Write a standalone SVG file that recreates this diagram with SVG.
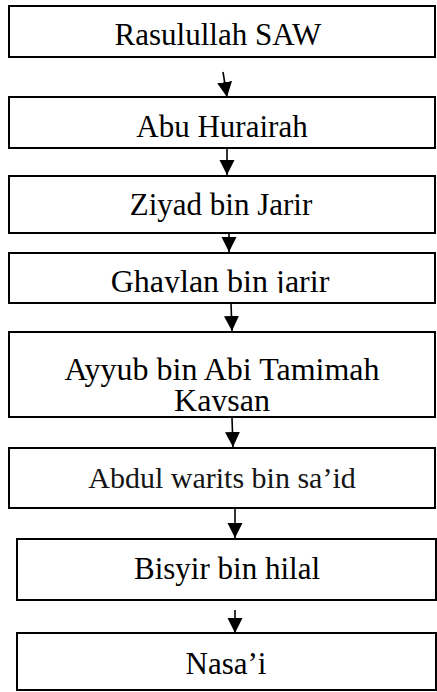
<svg xmlns="http://www.w3.org/2000/svg" width="437" height="692" viewBox="0 0 437 692">
  <style>
    .box { fill: #ffffff; stroke: #000000; stroke-width: 2; }
    .label { font-family: "Liberation Serif", "Times New Roman", serif; font-size: 31px; fill: #000000; text-anchor: middle; }
    .big { font-size: 32px; }
    .garamond { font-size: 30px; fill: #151515; }
    .link { stroke: #000000; stroke-width: 1.6; fill: none; marker-end: url(#head); }
  </style>
  <defs>
    <marker id="head" markerUnits="userSpaceOnUse" markerWidth="16" markerHeight="16" refX="15" refY="7.5" orient="auto">
      <path d="M0,0 L15,7.5 L0,15 Z" fill="#000000"/>
    </marker>
    <!-- the two tall labels are cut off by their boxes -->
    <clipPath id="clipGhaylan"><rect x="10" y="254" width="424" height="39"/></clipPath>
    <clipPath id="clipAyyub"><rect x="10" y="333" width="424" height="78"/></clipPath>
  </defs>

  <rect width="437" height="692" fill="#ffffff"/>

  <g id="connectors">
    <line class="link" x1="223" y1="72" x2="227" y2="97"/>
    <line class="link" x1="227" y1="148" x2="227" y2="175"/>
    <line class="link" x1="229" y1="233" x2="229" y2="252"/>
    <line class="link" x1="231" y1="303" x2="232" y2="331"/>
    <line class="link" x1="232" y1="418" x2="233" y2="447"/>
    <line class="link" x1="235" y1="508" x2="235" y2="538"/>
    <line class="link" x1="235" y1="610" x2="235" y2="633"/>
  </g>

  <g id="rasulullah">
    <rect class="box" x="9" y="6" width="426" height="51"/>
    <text class="label" x="218" y="45">Rasulullah SAW</text>
  </g>

  <g id="abu-hurairah">
    <rect class="box" x="9" y="97" width="426" height="51"/>
    <text class="label" x="222" y="137">Abu Hurairah</text>
  </g>

  <g id="ziyad">
    <rect class="box" x="9" y="176" width="426" height="57"/>
    <text class="label" x="221" y="215">Ziyad bin Jarir</text>
  </g>

  <g id="ghaylan">
    <rect class="box" x="9" y="253" width="426" height="50"/>
    <text class="label big" x="220" y="292" clip-path="url(#clipGhaylan)">Ghaylan bin jarir</text>
  </g>

  <g id="ayyub">
    <rect class="box" x="9" y="332" width="426" height="85"/>
    <text class="label big" clip-path="url(#clipAyyub)"><tspan x="222" y="380">Ayyub bin Abi Tamimah</tspan><tspan x="222" y="411">Kaysan</tspan></text>
  </g>

  <g id="abdul-warits">
    <rect class="box" x="9" y="448" width="426" height="60"/>
    <text class="label garamond" x="222" y="488">Abdul warits bin sa’id</text>
  </g>

  <g id="bisyir">
    <rect class="box" x="17" y="539" width="419" height="61"/>
    <text class="label" x="227" y="579">Bisyir bin hilal</text>
  </g>

  <g id="nasai">
    <rect class="box" x="17" y="633" width="419" height="57"/>
    <text class="label" x="226" y="674">Nasa’i</text>
  </g>
</svg>
